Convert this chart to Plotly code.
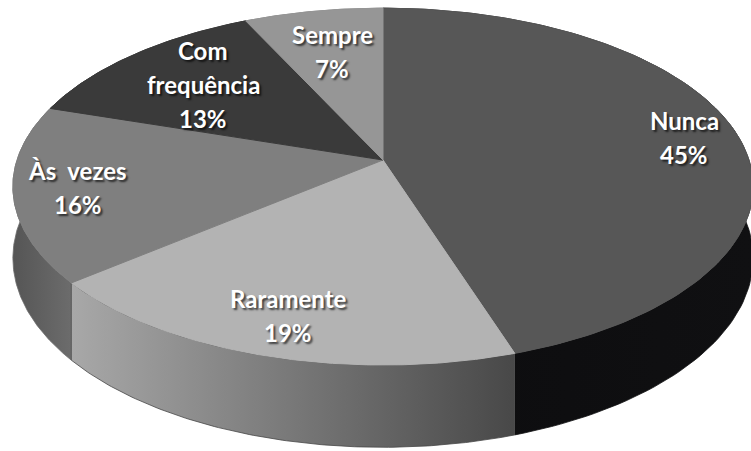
import numpy as np
import plotly.graph_objects as go

# ---- data ----
categories = ["Nunca", "Raramente", "Às vezes", "Com frequência", "Sempre"]
percentages = [45, 19, 16, 13, 7]
label_lines = [["Nunca"], ["Raramente"], ["Às\u00a0 vezes"], ["Com", "frequência"], ["Sempre"]]

# ---- style ----
top_colors = ["#575757", "#b3b3b3", "#7f7f7f", "#3a3a3a", "#969696"]
wall_colors = [("#0c0c0e", "#101012"), ("#a8a8a8", "#484848"), ("#555555", "#6c6c6c"),
               ("#2a2a2a", "#2a2a2a"), ("#7a7a7a", "#7a7a7a")]
label_r = [0.85, 0.82, 0.83, 0.70, 0.70]

W, H = 751, 451
CX, CY = 383, 160
RX, RY, K, DEPTH = 366, 174.5, 0.149, 70
LINE_GAP = 34


def project(theta, r=1.0, drop=0.0):
    u = r * np.sin(theta)
    v = -r * np.cos(theta)
    s = 1 - K * v
    return CX + RX * u / s, CY + (RY * v + drop) / s


total = float(sum(percentages))
bounds = np.concatenate([[0], np.cumsum(percentages)]) / total * 2 * np.pi

fig = go.Figure()

# walls, back to front
order = sorted(range(len(categories)),
               key=lambda i: max(-np.cos(np.linspace(bounds[i], bounds[i + 1], 50))))
for i in order:
    th = np.linspace(bounds[i], bounds[i + 1], 120)
    xt, yt = project(th)
    xb, yb = project(th[::-1], drop=DEPTH)
    c0, c1 = wall_colors[i]
    fig.add_trace(go.Scatter(
        x=np.concatenate([xt, xb]), y=np.concatenate([yt, yb]),
        mode="lines", fill="toself", line=dict(width=0.8, color=c1),
        fillgradient=dict(type="horizontal", colorscale=[[0, c0], [1, c1]]),
        hoverinfo="skip", showlegend=False))

# top faces
for i in range(len(categories)):
    th = np.linspace(bounds[i], bounds[i + 1], 150)
    xt, yt = project(th)
    x = np.concatenate([[CX], xt, [CX]])
    y = np.concatenate([[CY], yt, [CY]])
    fig.add_trace(go.Scatter(
        x=x, y=y, mode="lines", fill="toself", fillcolor=top_colors[i],
        line=dict(width=1, color=top_colors[i]),
        name=categories[i], hoverinfo="name", showlegend=False))

# labels
for i in range(len(categories)):
    mid = (bounds[i] + bounds[i + 1]) / 2
    lx, ly = project(mid, r=label_r[i])
    lines = label_lines[i] + [f"{percentages[i]}%"]
    n = len(lines)
    for j, t in enumerate(lines):
        fig.add_annotation(
            x=float(lx), y=float(ly + (j - (n - 1) / 2) * LINE_GAP),
            xref="x", yref="y", text=t, showarrow=False,
            xanchor="center", yanchor="middle",
            font=dict(family="Lato", size=24, color="white", weight="bold",
                      shadow="2px 2px 2px rgba(0,0,0,0.65)"))

fig.update_layout(
    width=W, height=H, margin=dict(l=0, r=0, t=0, b=0),
    paper_bgcolor="white", plot_bgcolor="white",
    xaxis=dict(range=[0, W], visible=False, fixedrange=True),
    yaxis=dict(range=[H, 0], visible=False, fixedrange=True),
)

fig.write_html("out.html", config={"displayModeBar": False},
               post_script="document.body.style.margin='0';")
